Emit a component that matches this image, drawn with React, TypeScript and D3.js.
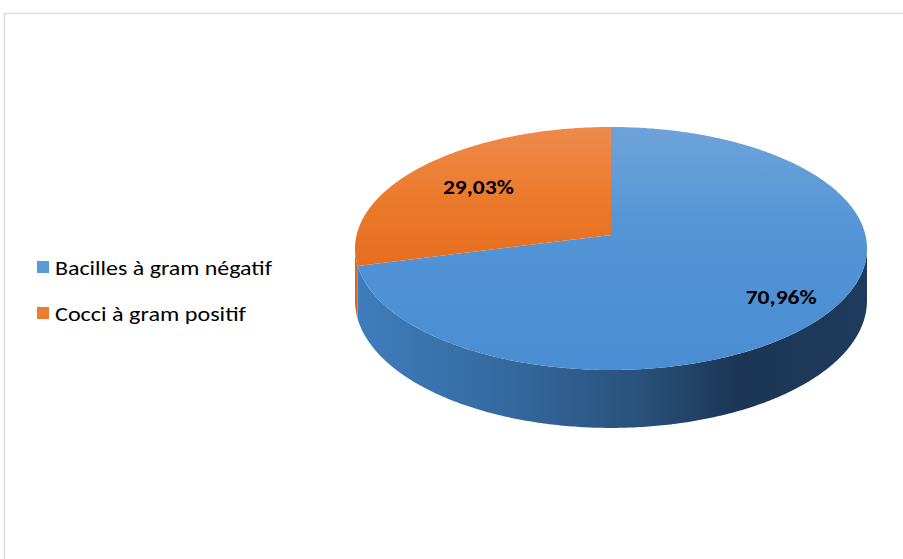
import React from "react";
import * as d3 from "d3";

const categories = ["Bacilles à gram négatif", "Cocci à gram positif"];
const values = [70.96, 29.03];
const labels = ["70,96%", "29,03%"];

const W = 903;
const H = 559;

// projection parameters (3D perspective pie)
const CX = 611;
const CY = 235;
const B = 254.4;
const A = 120;
const E = -0.111;
const D0 = 51.5;

function proj(theta: number, r: number, depth = 0): [number, number] {
  const u = r * Math.sin(theta);
  const v = -r * Math.cos(theta);
  const den = 1 + E * v;
  return [CX + (B * u) / den, CY + (A * v) / den + depth / den];
}

function arcPoints(a0: number, a1: number, depth = 0): [number, number][] {
  const n = Math.max(2, Math.ceil(Math.abs(a1 - a0) / 0.01));
  const pts: [number, number][] = [];
  for (let i = 0; i <= n; i++) {
    const t = a0 + ((a1 - a0) * i) / n;
    pts.push(proj(t, 1, depth));
  }
  return pts;
}

export default function App() {
  const pie = d3
    .pie<number>()
    .sort(null)
    .startAngle(0)
    .endAngle(2 * Math.PI)
    .value((d) => d);
  const arcs = pie(values);
  const line = d3.line();

  const thetaRight = Math.acos(E);
  const thetaLeft = 2 * Math.PI - thetaRight;

  const topIds = ["gBlueTop", "gOrangeTop"];
  const sideIds = ["gBlueSide", "gOrangeSide"];
  const legendColors = ["#5b9bd5", "#ed7d31"];
  const labelR = [0.8, 0.69];
  const legendWidths = [217, 191];

  return (
    <svg
      width={W}
      height={H}
      style={{ position: "absolute", left: 0, top: 0 }}
      fontFamily="Carlito, Lato, 'Noto Sans', sans-serif"
    >
      <defs>
        <linearGradient id="gBlueTop" gradientUnits="userSpaceOnUse" x1="0" y1="127" x2="0" y2="370">
          <stop offset="0" stopColor="#6ea3d9" />
          <stop offset="0.45" stopColor="#5294d6" />
          <stop offset="1" stopColor="#4a8dd2" />
        </linearGradient>
        <linearGradient id="gOrangeTop" gradientUnits="userSpaceOnUse" x1="0" y1="127" x2="0" y2="270">
          <stop offset="0" stopColor="#ee8a4c" />
          <stop offset="0.5" stopColor="#ec7a2c" />
          <stop offset="1" stopColor="#e56d1f" />
        </linearGradient>
        <linearGradient id="gBlueSide" gradientUnits="userSpaceOnUse" x1="355" y1="0" x2="867" y2="0">
          <stop offset="0" stopColor="#3f7dbd" />
          <stop offset="0.3" stopColor="#34699f" />
          <stop offset="0.55" stopColor="#29527c" />
          <stop offset="0.75" stopColor="#1c3554" />
          <stop offset="1" stopColor="#1e3b5d" />
        </linearGradient>
        <linearGradient id="gOrangeSide" gradientUnits="userSpaceOnUse" x1="355" y1="0" x2="867" y2="0">
          <stop offset="0" stopColor="#d8651c" />
          <stop offset="1" stopColor="#8a3c0c" />
        </linearGradient>
      </defs>

      <rect x={0} y={0} width={W} height={H} fill="#ffffff" />
      <rect
        x={4.5}
        y={13.5}
        width={W + 20}
        height={H + 20}
        fill="none"
        stroke="#d9dee6"
        strokeWidth={1.5}
      />

      {/* sides */}
      {arcs.map((a, i) => {
        const s = Math.max(a.startAngle, thetaRight);
        const e = Math.min(a.endAngle, thetaLeft);
        if (e <= s) return null;
        const top = arcPoints(s, e, 0);
        const bot = arcPoints(e, s, D0);
        return (
          <path
            key={"side" + i}
            d={line([...top, ...bot])! + "Z"}
            fill={`url(#${sideIds[i]})`}
          />
        );
      })}

      {/* top faces */}
      {arcs.map((a, i) => {
        const pts = [proj(0, 0), ...arcPoints(a.startAngle, a.endAngle, 0)];
        return (
          <path
            key={"top" + i}
            d={line(pts)! + "Z"}
            fill={`url(#${topIds[i]})`}
          />
        );
      })}

      {/* data labels */}
      {arcs.map((a, i) => {
        const mid = (a.startAngle + a.endAngle) / 2;
        const [x, y] = proj(mid, labelR[i]);
        return (
          <text
            key={"lbl" + i}
            x={x - 35.5}
            y={y}
            dy="0.35em"
            fontWeight="bold"
            fontSize={21}
            textLength={71}
            lengthAdjust="spacingAndGlyphs"
            fill="#000"
          >
            {labels[i]}
          </text>
        );
      })}

      {/* legend */}
      {categories.map((c, i) => (
        <g key={"leg" + i} transform={`translate(37, ${261 + i * 46})`}>
          <rect x={0} y={0} width={12} height={12} fill={legendColors[i]} />
          <text
            x={18}
            y={6}
            dy="0.36em"
            fontSize={21}
            textLength={legendWidths[i]}
            lengthAdjust="spacingAndGlyphs"
            fill="#000"
          >
            {c}
          </text>
        </g>
      ))}
    </svg>
  );
}
